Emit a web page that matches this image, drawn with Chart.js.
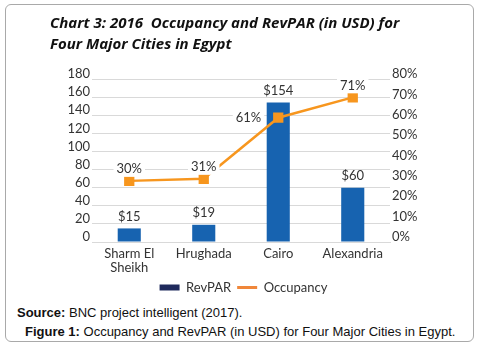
<!DOCTYPE html>
<html>
<head>
<meta charset="utf-8">
<script src="https://cdn.jsdelivr.net/npm/chart.js@4"></script>
<style>
  html, body { margin: 0; padding: 0; background: #fff; }
  body { width: 487px; height: 355px; position: relative; overflow: hidden; }
  #box { position: absolute; left: 5px; top: 4px; width: 469px; height: 338px; border: 1px solid #a9a9a9; border-radius: 6px; box-sizing: border-box; }
  #title { position: absolute; left: 50px; top: 12px; font-family: "Open Sans", sans-serif; font-weight: bold; font-style: italic; font-size: 15px; line-height: 21px; color: #111; white-space: pre; }
  #wrap { position: absolute; left: 0; top: 0; width: 487px; height: 304px; }
  #source { position: absolute; left: 17px; top: 305px; font-family: "Liberation Sans", Arial, sans-serif; font-size: 13px; color: #111; white-space: pre; }
  #figure { position: absolute; left: 25px; top: 324px; font-family: "Liberation Sans", Arial, sans-serif; font-size: 13px; color: #111; white-space: pre; }
</style>
</head>
<body>
<div id="box"></div>
<div id="wrap"><canvas id="c" width="487" height="304"></canvas></div>
<div id="title">Chart 3: 2016  Occupancy and RevPAR (in USD) for
Four Major Cities in Egypt</div>
<div id="source"><b>Source:</b> BNC project intelligent (2017).</div>
<div id="figure"><b>Figure 1:</b> Occupancy and RevPAR (in USD) for Four Major Cities in Egypt.</div>
<script>
const categories = [["Sharm El", "Sheikh"], "Hrughada", "Cairo", "Alexandria"];
const revpar = [15, 19, 154, 60];
const occupancy = [30, 31, 61, 71];
const leftTicks = [0, 20, 40, 60, 80, 100, 120, 140, 160, 180];
const rightTicks = [0, 10, 20, 30, 40, 50, 60, 70, 80];

const FONT = "Lato, 'Open Sans', sans-serif";
const TXT = "#333";
const BAR = "#1763B0";
const ORANGE = "#F7961E";

const labelPlugin = {
  id: "valueLabels",
  afterDatasetsDraw(chart) {
    const ctx = chart.ctx;
    ctx.save();
    ctx.font = "13px " + FONT;
    ctx.fillStyle = TXT;
    ctx.textAlign = "center";
    ctx.textBaseline = "middle";
    const barMeta = chart.getDatasetMeta(1);
    barMeta.data.forEach((el, i) => {
      ctx.fillText("$" + revpar[i], el.x, el.y - 12);
    });
    const lineMeta = chart.getDatasetMeta(0);
    const leftSide = [false, false, true, false];
    lineMeta.data.forEach((el, i) => {
      const t = occupancy[i] + "%";
      const w = ctx.measureText(t).width;
      let cx, cy;
      if (leftSide[i]) { cx = el.x - 17 - w / 2; cy = el.y; }
      else { cx = el.x; cy = el.y - 12; }
      ctx.fillStyle = "#fff";
      ctx.fillRect(cx - w / 2 - 3, cy - 8, w + 6, 16);
      ctx.fillStyle = TXT;
      ctx.fillText(t, cx, cy);
    });
    ctx.restore();
  }
};

new Chart(document.getElementById("c"), {
  data: {
    labels: categories,
    datasets: [
      {
        type: "line", label: "Occupancy", data: occupancy, yAxisID: "y1", order: 0,
        borderColor: ORANGE, backgroundColor: ORANGE, borderWidth: 2.5,
        pointStyle: "rect", pointRadius: 5.5, pointBackgroundColor: ORANGE, pointBorderColor: ORANGE,
        tension: 0
      },
      {
        type: "bar", label: "RevPAR", data: revpar, yAxisID: "y", order: 1,
        backgroundColor: BAR, borderWidth: 0,
        barPercentage: 0.31, categoryPercentage: 1
      }
    ]
  },
  options: {
    responsive: false,
    animation: false,
    devicePixelRatio: 1,
    layout: { padding: { top: 79, left: 0, right: 0, bottom: 0 } },
    plugins: {
      tooltip: { enabled: false },
      title: { display: false },
      legend: {
        position: "bottom",
        labels: {
          font: { family: FONT, size: 13 }, color: TXT,
          usePointStyle: true, pointStyleWidth: 20, boxHeight: 6, padding: 6,
          generateLabels() {
            return [
              { text: "RevPAR", fillStyle: "#1F2A5C", strokeStyle: "#1F2A5C", lineWidth: 0, pointStyle: "rect", datasetIndex: 1, hidden: false, fontColor: TXT },
              { text: "Occupancy", fillStyle: "#F0873A", strokeStyle: "#F0873A", lineWidth: 3, pointStyle: "line", datasetIndex: 0, hidden: false, fontColor: TXT }
            ];
          }
        }
      }
    },
    scales: {
      x: {
        afterFit(s) { s.height = 33; },
        grid: { display: false, drawTicks: false },
        border: { display: true, color: "#d9d9d9" },
        ticks: { font: { family: FONT, size: 13, lineHeight: 1.08 }, color: TXT, padding: 5, maxRotation: 0, autoSkip: false }
      },
      y: {
        position: "left", min: 0, max: 180,
        afterFit(s) { s.width = 92; },
        afterBuildTicks(s) { s.ticks = leftTicks.map(v => ({ value: v })); },
        grid: { color: "#d9d9d9", drawTicks: false },
        border: { display: false },
        ticks: { font: { family: FONT, size: 13 }, color: TXT, padding: 2, autoSkip: false, labelOffset: -5 }
      },
      y1: {
        position: "right", min: 0, max: 80,
        afterFit(s) { s.width = 97; },
        afterBuildTicks(s) { s.ticks = rightTicks.map(v => ({ value: v })); },
        grid: { drawOnChartArea: false, drawTicks: false },
        border: { display: false },
        ticks: { font: { family: FONT, size: 13 }, color: TXT, padding: 2, autoSkip: false, labelOffset: -5, callback: v => v + "%" }
      }
    }
  },
  plugins: [labelPlugin]
});
</script>
</body>
</html>
